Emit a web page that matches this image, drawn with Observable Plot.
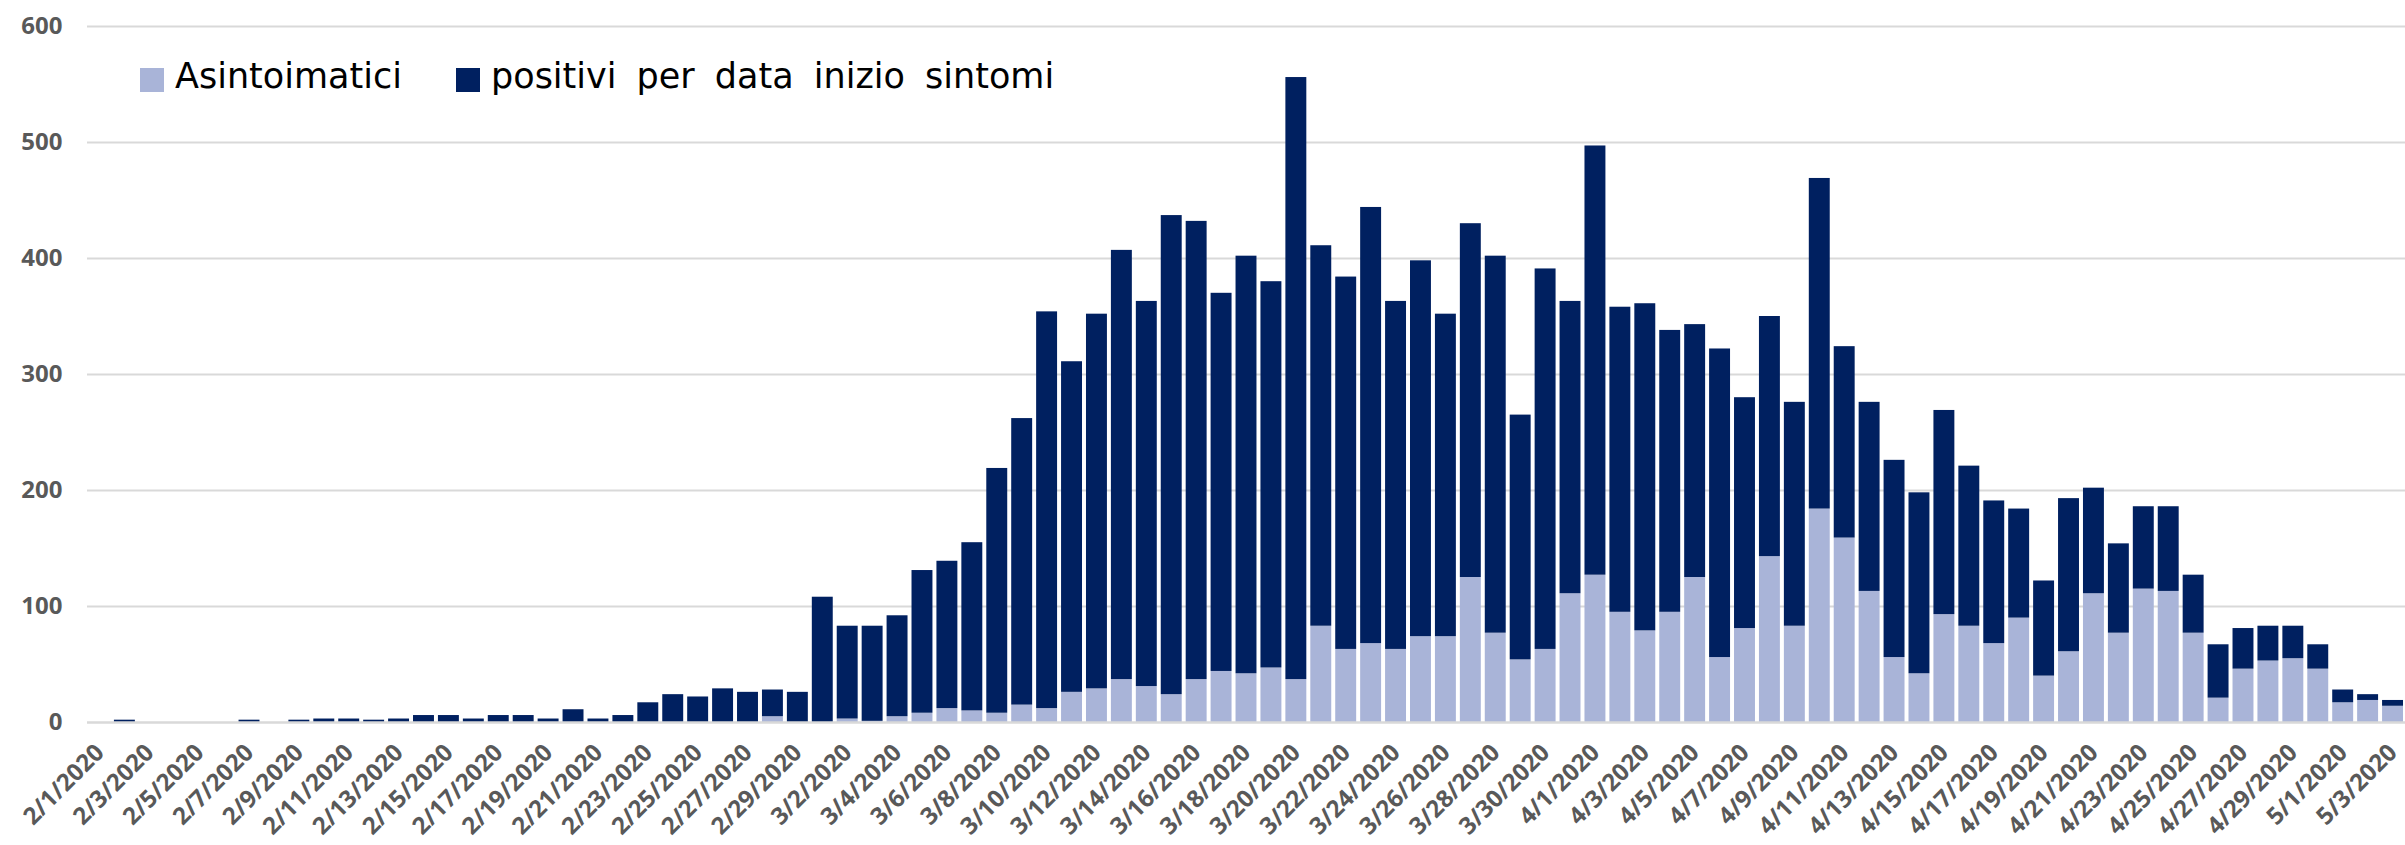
<!DOCTYPE html>
<html>
<head>
<meta charset="utf-8">
<script src="https://cdn.jsdelivr.net/npm/d3@7"></script>
<script src="https://cdn.jsdelivr.net/npm/@observablehq/plot@0.6"></script>
<style>
  html, body { margin: 0; padding: 0; background: #fff; }
  #wrap { position: relative; width: 2405px; height: 845px; overflow: hidden; }
  #legend { position: absolute; left: 0; top: 0; width: 2405px; height: 120px; pointer-events: none;
            font-family: "DejaVu Sans", sans-serif; font-size: 35px; color: #000; }
  #legend .sw { position: absolute; width: 24px; height: 24px; top: 68px; }
  #legend .lb { position: absolute; top: 59px; line-height: 35px; white-space: nowrap; }
  svg text { font-family: "Open Sans", sans-serif; }
</style>
</head>
<body>
<div id="wrap"><div id="legend"></div></div>
<script>
const dates = [
  "2/1/2020","2/2/2020","2/3/2020","2/4/2020","2/5/2020","2/6/2020","2/7/2020","2/8/2020","2/9/2020","2/10/2020",
  "2/11/2020","2/12/2020","2/13/2020","2/14/2020","2/15/2020","2/16/2020","2/17/2020","2/18/2020","2/19/2020","2/20/2020",
  "2/21/2020","2/22/2020","2/23/2020","2/24/2020","2/25/2020","2/26/2020","2/27/2020","2/28/2020","2/29/2020","3/1/2020",
  "3/2/2020","3/3/2020","3/4/2020","3/5/2020","3/6/2020","3/7/2020","3/8/2020","3/9/2020","3/10/2020","3/11/2020",
  "3/12/2020","3/13/2020","3/14/2020","3/15/2020","3/16/2020","3/17/2020","3/18/2020","3/19/2020","3/20/2020","3/21/2020",
  "3/22/2020","3/23/2020","3/24/2020","3/25/2020","3/26/2020","3/27/2020","3/28/2020","3/29/2020","3/30/2020","3/31/2020",
  "4/1/2020","4/2/2020","4/3/2020","4/4/2020","4/5/2020","4/6/2020","4/7/2020","4/8/2020","4/9/2020","4/10/2020",
  "4/11/2020","4/12/2020","4/13/2020","4/14/2020","4/15/2020","4/16/2020","4/17/2020","4/18/2020","4/19/2020","4/20/2020",
  "4/21/2020","4/22/2020","4/23/2020","4/24/2020","4/25/2020","4/26/2020","4/27/2020","4/28/2020","4/29/2020","4/30/2020",
  "5/1/2020","5/2/2020","5/3/2020"
];

const asintomatici = [
  0,0,0,0,0,0,0,0,0,0,
  0,0,0,0,0,0,0,0,0,0,
  0,0,0,0,0,0,0,5,0,0,
  3,1,5,8,12,10,8,15,12,26,
  29,37,31,24,37,44,42,47,37,83,
  63,68,63,74,74,125,77,54,63,111,
  127,95,79,95,125,56,81,143,83,184,
  159,113,56,42,93,83,68,90,40,61,
  111,77,115,113,77,21,46,53,55,46,
  17,19,14
];

const positivi = [
  0,2,0,0,0,0,2,0,2,3,
  3,2,3,6,6,3,6,6,3,11,
  3,6,17,24,22,29,26,23,26,108,
  80,82,87,123,127,145,211,247,342,285,
  323,370,332,413,395,326,360,333,519,328,
  321,376,300,324,278,305,325,211,328,252,
  370,263,282,243,218,266,199,207,193,285,
  165,163,170,156,176,138,123,94,82,132,
  91,77,71,73,50,46,35,30,28,21,
  11,5,5
];

const seriesNames = ["Asintoimatici", "positivi per data inizio sintomi"];
const seriesColors = ["#A9B4D8", "#002060"];
const yTicks = [0, 100, 200, 300, 400, 500, 600];
const xTicks = dates.filter((d, i) => i % 2 === 0);

const rows = [];
dates.forEach((d, i) => {
  rows.push({date: d, series: seriesNames[0], value: asintomatici[i]});
  rows.push({date: d, series: seriesNames[1], value: positivi[i]});
});

const chart = Plot.plot({
  width: 2405,
  height: 845,
  marginLeft: 87,
  marginRight: 0,
  marginTop: 26,
  marginBottom: 123,
  style: {fontFamily: "'Open Sans', sans-serif", background: "#fff"},
  x: {type: "band", domain: dates, paddingInner: 0.16, paddingOuter: 0.08, label: null},
  y: {domain: [0, 600], label: null},
  color: {domain: seriesNames, range: seriesColors},
  marks: [
    Plot.ruleY(yTicks.filter(t => t > 0), {stroke: "#D9D9D9", strokeWidth: 2}),
    Plot.barY(rows, Plot.stackY({order: seriesNames, x: "date", y: "value", fill: "series"})),
    Plot.ruleY([0], {stroke: "#D9D9D9", strokeWidth: 2.5}),
    Plot.axisY({ticks: yTicks, tickSize: 0, tickPadding: 25, fontSize: 24, fontWeight: "bold", fill: "#595959", label: null}),
    Plot.axisX({ticks: xTicks, tickSize: 0, tickPadding: 26, tickRotate: -45, fontSize: 24, fontWeight: "bold", fill: "#595959", label: null})
  ]
});

const wrap = document.getElementById("wrap");
wrap.insertBefore(chart, wrap.firstChild);

const legend = document.getElementById("legend");
const legendItems = [
  {name: seriesNames[0], color: seriesColors[0], sw: 140, lb: 175, ws: 0},
  {name: seriesNames[1], color: seriesColors[1], sw: 456, lb: 491, ws: 9}
];
legendItems.forEach(it => {
  const s = document.createElement("div");
  s.className = "sw"; s.style.left = it.sw + "px"; s.style.background = it.color;
  legend.appendChild(s);
  const t = document.createElement("div");
  t.className = "lb"; t.style.left = it.lb + "px"; t.style.wordSpacing = it.ws + "px";
  t.textContent = it.name;
  legend.appendChild(t);
});
</script>
</body>
</html>
